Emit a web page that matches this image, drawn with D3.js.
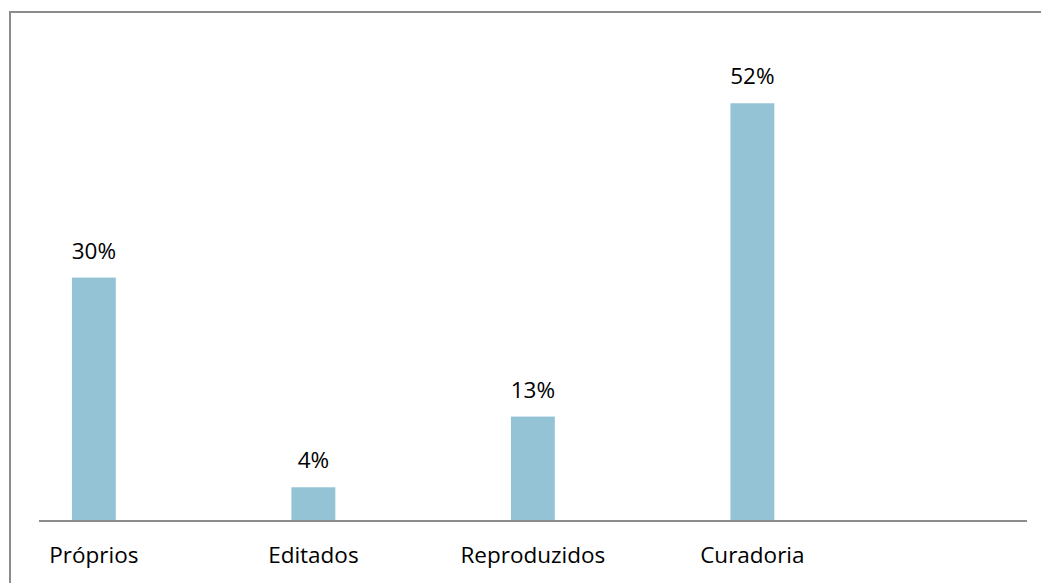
<!DOCTYPE html>
<html>
<head>
<meta charset="utf-8">
<script src="https://cdn.jsdelivr.net/npm/d3@7"></script>
<style>
    body { margin: 0; background: #fff; }
    svg text { font-family: "Open Sans", sans-serif; fill: #000; }
</style>
</head>
<body>
<div id="chart"></div>
<script>
// --- Data ---
const categories = ['Próprios', 'Editados', 'Reproduzidos', 'Curadoria'];
const shares = [0.303, 0.042, 0.13, 0.52];

document.addEventListener('DOMContentLoaded', () => {
    const width = 1041, height = 583;
    const svg = d3.select('#chart').append('svg')
        .attr('width', width).attr('height', height);

    // Frame (top and left edges visible)
    svg.append('path')
        .attr('d', `M10,${height} V12 H${width}`)
        .attr('fill', 'none').attr('stroke', '#8c8c8c').attr('stroke-width', 2);

    // --- Scales ---
    const x = d3.scaleBand().domain(categories).range([39, 917]);
    const y = d3.scaleLinear().domain([0, 0.6]).range([521, 39]);
    const barW = x.bandwidth() * 0.2;
    const barX = d => x(d) + x.bandwidth() * 0.15;
    const fmt = d3.format('.0%');

    const data = categories.map((c, i) => ({ cat: c, v: shares[i] }));

    // Bars
    svg.selectAll('.bar').data(data).join('rect')
        .attr('class', 'bar')
        .attr('x', d => barX(d.cat))
        .attr('width', barW)
        .attr('y', d => y(d.v))
        .attr('height', d => y(0) - y(d.v))
        .attr('fill', '#94c3d5');

    // Baseline
    svg.append('line')
        .attr('x1', 39).attr('x2', 1027)
        .attr('y1', y(0)).attr('y2', y(0))
        .attr('stroke', '#8c8c8c').attr('stroke-width', 2);

    // Value labels
    svg.selectAll('.val').data(data).join('text')
        .attr('class', 'val')
        .attr('x', d => barX(d.cat) + barW / 2)
        .attr('y', d => y(d.v) - 19)
        .attr('text-anchor', 'middle')
        .attr('font-size', 22.5)
        .text(d => fmt(d.v));

    // Category labels
    svg.selectAll('.cat').data(data).join('text')
        .attr('class', 'cat')
        .attr('x', d => barX(d.cat) + barW / 2)
        .attr('y', 563)
        .attr('text-anchor', 'middle')
        .attr('font-size', 22.5)
        .text(d => d.cat);
});
</script>
</body>
</html>
